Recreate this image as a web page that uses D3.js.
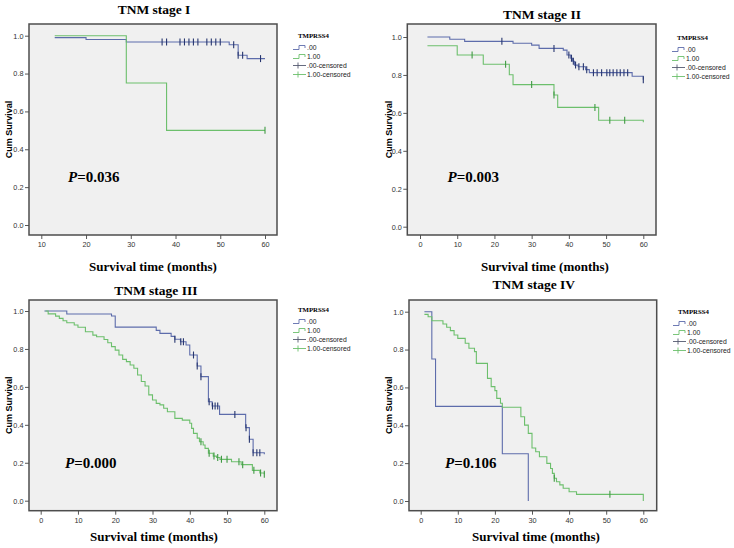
<!DOCTYPE html>
<html><head><meta charset="utf-8">
<script src="https://cdn.jsdelivr.net/npm/d3@7"></script>
<style>body{margin:0;background:#fff}svg{display:block}</style>
</head><body><svg id="c" width="734" height="548"></svg>
<script>
// ---------------- data ----------------
const titles = ["TNM stage I", "TNM stage II", "TNM stage III", "TNM stage IV"];
const pValues = ["0.036", "0.003", "0.000", "0.106"];
const legendTitle = "TMPRSS4";
const legendLabels = [".00", "1.00", ".00-censored", "1.00-censored"];
const xTicksStage1 = [10, 20, 30, 40, 50, 60];
const xTicksOther = [0, 10, 20, 30, 40, 50, 60];
const yTicks = [0, 0.2, 0.4, 0.6, 0.8, 1.0];

// Stage I
const s1_g0_time = [13, 20, 29, 52, 54, 56, 60];
const s1_g0_surv = [0.99, 0.98, 0.967, 0.952, 0.897, 0.879, 0.879];
const s1_g0_cens = [37, 38, 41, 42, 43, 44, 45, 47, 48, 49, 50, 53, 54, 55, 59];
const s1_g1_time = [13, 29, 38, 60];
const s1_g1_surv = [1.0, 0.75, 0.5, 0.5];
const s1_g1_cens = [60];

// Stage II
const s2_g0_time = [2, 8, 12, 25, 30, 32, 38.5, 39.5, 40.5, 41, 41.5, 42.5, 44.5, 45.5, 57, 60];
const s2_g0_surv = [1.0, 0.988, 0.977, 0.967, 0.957, 0.94, 0.931, 0.905, 0.888, 0.872, 0.852, 0.843, 0.828, 0.812, 0.793, 0.775];
const s2_g0_cens = [22, 36, 40, 40.7, 41.2, 41.8, 42.7, 43.9, 44.8, 46.6, 47.6, 48.8, 50.2, 51, 51.9, 52.9, 53.8, 54.8, 55.8, 60];
const s2_g1_time = [2, 10, 17, 24, 25, 36, 37, 48, 60];
const s2_g1_surv = [0.954, 0.905, 0.856, 0.801, 0.749, 0.694, 0.629, 0.561, 0.55];
const s2_g1_cens = [14, 23, 30, 36, 47, 51, 55];

// Stage III
const s3_g0_time = [1, 7, 19, 20, 31, 32, 35, 36, 37.5, 39, 40, 42, 43, 45, 46, 48, 55, 56, 57, 60];
const s3_g0_surv = [1.0, 0.984, 0.974, 0.915, 0.898, 0.882, 0.866, 0.851, 0.838, 0.821, 0.768, 0.71, 0.654, 0.522, 0.499, 0.455, 0.385, 0.324, 0.253, 0.245];
const s3_g0_cens = [36, 37.6, 38.3, 41, 42, 43, 45.2, 46.1, 46.8, 47.5, 52.1, 55.1, 56, 57, 58, 58.8];
const s3_g1_time = [1.3, 2, 4, 5, 6, 7, 9, 10, 12, 14, 15, 17, 18, 19, 20, 21, 22, 23, 24, 25, 26, 27, 28, 29, 30, 31, 32, 33, 34, 36, 38, 40, 40.5, 41, 42, 42.6, 43.6, 44.1, 45, 46.3, 47.2, 48.1, 51.2, 53.8, 56.8, 58.8, 60];
const s3_g1_surv = [1.0, 0.985, 0.973, 0.961, 0.949, 0.938, 0.926, 0.914, 0.891, 0.873, 0.864, 0.85, 0.833, 0.812, 0.794, 0.768, 0.745, 0.733, 0.715, 0.698, 0.663, 0.628, 0.605, 0.558, 0.531, 0.513, 0.505, 0.487, 0.469, 0.434, 0.425, 0.408, 0.381, 0.355, 0.33, 0.311, 0.294, 0.276, 0.25, 0.235, 0.228, 0.218, 0.205, 0.19, 0.16, 0.146, 0.139];
const s3_g1_cens = [43, 45.2, 46.5, 47.5, 48.5, 50, 53.2, 54.2, 57.2, 59, 60];

// Stage IV
const s4_g0_time = [1, 3, 4, 22, 29];
const s4_g0_surv = [1.0, 0.75, 0.5, 0.25, 0];
const s4_g0_cens = [];
const s4_g1_time = [1, 2, 3, 6, 7, 8, 9, 10, 12, 13, 14.5, 15, 18, 19, 20, 20.5, 21.5, 22, 27, 28, 29, 30, 31, 32, 34, 35, 35.5, 36, 36.6, 37.5, 38.4, 40, 42, 60];
const s4_g1_surv = [0.986, 0.973, 0.952, 0.935, 0.918, 0.9, 0.877, 0.859, 0.833, 0.807, 0.789, 0.727, 0.648, 0.604, 0.583, 0.542, 0.516, 0.495, 0.445, 0.401, 0.357, 0.28, 0.26, 0.234, 0.199, 0.172, 0.146, 0.12, 0.102, 0.085, 0.067, 0.049, 0.035, 0];
const s4_g1_cens = [36, 51];

// ---------------- layout / style ----------------
const COL = {
  g0: "#5d6cab", g0c: "#27366f",
  g1: "#6cbf6c", g1c: "#3f9a43",
  bg: "#f0f0f0", frame: "#4d4d4d", tick: "#444"
};
const SANS = "Liberation Sans, Arial, sans-serif";
const SERIF = "Liberation Serif, Times New Roman, serif";

const panels = [
  { box: [29, 277, 24, 235], xd: [10, 60], xr: [41.3, 265], yr: [225, 35.7], xticks: xTicksStage1,
    title: [154, 14], xlab: [153, 271], ylabX: 8.5, pPos: [68, 182], leg: [293, 35],
    g0: [s1_g0_time, s1_g0_surv, s1_g0_cens], g1: [s1_g1_time, s1_g1_surv, s1_g1_cens] },
  { box: [407.3, 656, 24, 235], xd: [0, 60], xr: [420, 643.3], yr: [226.7, 37], xticks: xTicksOther,
    title: [542, 19], xlab: [545, 271], ylabX: 388.5, pPos: [447.5, 182], leg: [672, 37],
    g0: [s2_g0_time, s2_g0_surv, s2_g0_cens], g1: [s2_g1_time, s2_g1_surv, s2_g1_cens] },
  { box: [29, 277, 300, 510.7], xd: [0, 60], xr: [40.7, 264.3], yr: [500.7, 311], xticks: xTicksOther,
    title: [155.8, 295], xlab: [154, 541], ylabX: 8.5, pPos: [65, 468], leg: [293, 309],
    g0: [s3_g0_time, s3_g0_surv, s3_g0_cens], g1: [s3_g1_time, s3_g1_surv, s3_g1_cens] },
  { box: [409, 656.7, 300, 510.7], xd: [0, 60], xr: [420.7, 643.3], yr: [501, 311.7], xticks: xTicksOther,
    title: [533.8, 289], xlab: [536, 541], ylabX: 388.5, pPos: [445, 468], leg: [673, 311],
    g0: [s4_g0_time, s4_g0_surv, s4_g0_cens], g1: [s4_g1_time, s4_g1_surv, s4_g1_cens] }
];

const svg = d3.select("#c");

panels.forEach((p, i) => {
  const [L, R, T, B] = p.box;
  const x = d3.scaleLinear().domain(p.xd).range(p.xr);
  const y = d3.scaleLinear().domain([0, 1]).range(p.yr);
  const g = svg.append("g");

  g.append("rect").attr("x", L).attr("y", T).attr("width", R - L).attr("height", B - T)
    .attr("fill", COL.bg);

  // axes
  const ax = g.append("g").attr("transform", `translate(0,${B})`)
    .call(d3.axisBottom(x).tickValues(p.xticks).tickFormat(d3.format("d")).tickSize(4).tickPadding(3));
  const ay = g.append("g").attr("transform", `translate(${L},0)`)
    .call(d3.axisLeft(y).tickValues(yTicks).tickFormat(d3.format(".1f")).tickSize(4).tickPadding(1.5));
  [ax, ay].forEach(a => {
    a.select(".domain").remove();
    a.selectAll("line").attr("stroke", COL.tick).attr("stroke-width", 0.9);
    a.selectAll("text").attr("fill", "#333").style("font-family", SANS).style("font-size", "7.3px");
  });

  // curves
  const line = d3.line().x(d => x(d[0])).y(d => y(d[1])).curve(d3.curveStepAfter);
  const clip = "clip" + i;
  g.append("clipPath").attr("id", clip).append("rect")
    .attr("x", L).attr("y", T).attr("width", R - L).attr("height", B - T);
  const cg = g.append("g").attr("clip-path", `url(#${clip})`);
  [["g0", COL.g0, COL.g0c], ["g1", COL.g1, COL.g1c]].forEach(([k, lc, cc]) => {
    const [times, surv, cens] = p[k];
    const pts = times.map((t, j) => [t, surv[j]]);
    cg.append("path").attr("d", line(pts)).attr("fill", "none")
      .attr("stroke", lc).attr("stroke-width", 1.1);
    cens.forEach(t => {
      const idx = Math.max(0, d3.bisectRight(times, t) - 1);
      const s = surv[idx];
      cg.append("line").attr("x1", x(t)).attr("x2", x(t))
        .attr("y1", y(s) - 3.5).attr("y2", y(s) + 3.5)
        .attr("stroke", cc).attr("stroke-width", 1.1);
    });
  });

  // frame
  g.append("rect").attr("x", L).attr("y", T).attr("width", R - L).attr("height", B - T)
    .attr("fill", "none").attr("stroke", COL.frame).attr("stroke-width", 1.5);

  // titles
  g.append("text").attr("x", p.title[0]).attr("y", p.title[1]).attr("text-anchor", "middle")
    .style("font-family", SERIF).style("font-weight", "bold").style("font-size", "13.5px")
    .text(titles[i]);
  g.append("text").attr("x", p.xlab[0]).attr("y", p.xlab[1]).attr("text-anchor", "middle")
    .style("font-family", SERIF).style("font-weight", "bold").style("font-size", "13px")
    .text("Survival time (months)");
  g.append("text").attr("transform", `translate(${p.ylabX},${(T + B) / 2}) rotate(-90)`)
    .attr("text-anchor", "middle").attr("dominant-baseline", "central")
    .style("font-family", SANS).style("font-weight", "bold").style("font-size", "9px")
    .text("Cum Survival");

  // P value
  const pt = g.append("text").attr("x", p.pPos[0]).attr("y", p.pPos[1])
    .style("font-family", SERIF).style("font-weight", "bold").style("font-size", "15px");
  pt.append("tspan").style("font-style", "italic").text("P");
  pt.append("tspan").text("=" + pValues[i]);

  // legend
  const [lx, ly] = p.leg;
  g.append("text").attr("x", lx + 5).attr("y", ly + 2.5)
    .style("font-family", SERIF).style("font-weight", "bold").style("font-size", "6.8px")
    .text(legendTitle);
  legendLabels.forEach((lab, j) => {
    const yy = ly + 12.5 + j * 9;
    const col = j % 2 === 0 ? (j < 2 ? COL.g0 : "#555a70") : (j < 2 ? COL.g1 : COL.g1);
    if (j < 2) {
      g.append("path")
        .attr("d", `M${lx},${yy + 2}H${lx + 6}V${yy - 2}H${lx + 12}V${yy + 0.5}`)
        .attr("fill", "none").attr("stroke", col).attr("stroke-width", 0.9);
    } else {
      g.append("line").attr("x1", lx).attr("x2", lx + 13).attr("y1", yy).attr("y2", yy)
        .attr("stroke", col).attr("stroke-width", 0.9);
      g.append("line").attr("x1", lx + 5).attr("x2", lx + 5).attr("y1", yy - 3).attr("y2", yy + 3)
        .attr("stroke", col).attr("stroke-width", 0.9);
    }
    g.append("text").attr("x", lx + 14).attr("y", yy + 2.5)
      .attr("fill", "#222")
      .style("font-family", SANS).style("font-size", "6.8px")
      .text(lab);
  });
});
</script>
</body></html>
